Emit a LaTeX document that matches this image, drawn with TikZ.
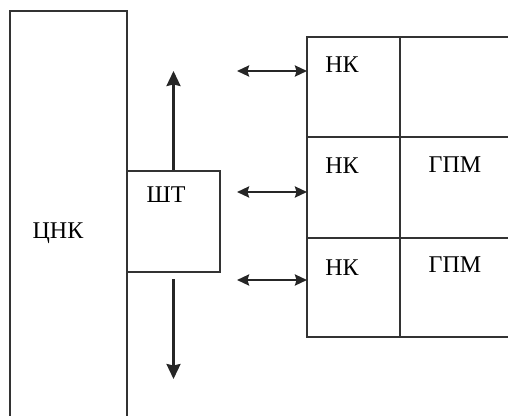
\documentclass[tikz,border=0pt]{standalone}
\usepackage{fontspec}
\setmainfont{Liberation Serif}
\usetikzlibrary{arrows.meta}
\begin{document}
\begin{tikzpicture}[x=1pt,y=-1pt,
  ln/.style={draw=black!80, line width=2pt},
  arr/.style={draw=black!85, line width=2.4pt, -{Stealth[length=15pt,width=14pt,inset=1.5pt]}},
  darr/.style={draw=black!85, line width=2.4pt, {Stealth[length=12pt,width=11pt,inset=1.5pt]}-{Stealth[length=12pt,width=11pt,inset=1.5pt]}},
  lbl/.style={font=\fontsize{24}{26}\selectfont, inner sep=0pt}]
\useasboundingbox (0,0) rectangle (508,415);
% ЦНК column (open at bottom)
\draw[ln] (10,418) -- (10,11) -- (127,11) -- (127,418);
\node[lbl] (cnk) at (58,233) {ЦНК};
% ШТ box
\node[ln, rectangle, minimum width=93pt, minimum height=101pt, inner sep=0pt] (sht) at (173.5,221.5) {};
\node[lbl] (shtl) at (166,195) {ШТ};
\coordinate (up) at (173.5,71);
\coordinate (dn) at (173.5,379);
\draw[arr] (sht.north) -- (up);
\draw[arr, shorten <=6pt] (sht.south) -- (dn);
% grid (open at right)
\draw[ln] (511,37) -- (307,37) -- (307,337) -- (511,337);
\draw[ln] (307,137) -- (511,137);
\draw[ln] (307,238) -- (511,238);
\draw[ln] (400,37) -- (400,337);
\node[lbl] (nk1) at (342,65) {НК};
\node[lbl] (nk2) at (342,166) {НК};
\node[lbl] (nk3) at (342,268) {НК};
\node[lbl] (gpm2) at (455,165) {ГПМ};
\node[lbl] (gpm3) at (455,265) {ГПМ};
% double arrows
\coordinate (a1) at (237,71);  \coordinate (b1) at (307,71);
\coordinate (a2) at (237,192); \coordinate (b2) at (307,192);
\coordinate (a3) at (237,280); \coordinate (b3) at (307,280);
\draw[darr] (a1) -- (b1);
\draw[darr] (a2) -- (b2);
\draw[darr] (a3) -- (b3);
\end{tikzpicture}
\end{document}
